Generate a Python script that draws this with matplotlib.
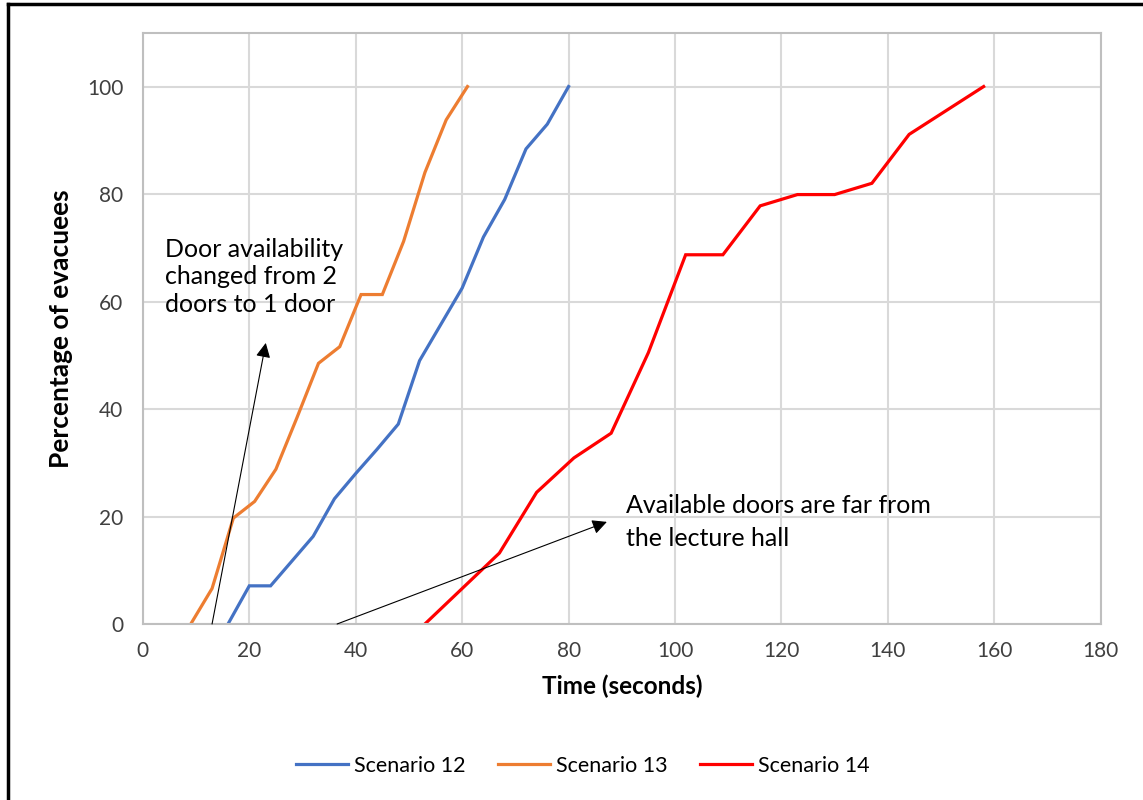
import matplotlib
matplotlib.use('Agg')
import matplotlib.pyplot as plt
from matplotlib.lines import Line2D

plt.rcParams['font.family'] = ['Lato', 'DejaVu Sans']

# ------------- data ----------
t12 = [16, 20, 24, 32, 36, 40, 44, 48, 52, 60, 64, 68, 72, 76, 80]
p12 = [0, 7.1, 7.1, 16.3, 23.3, 28, 32.5, 37.2, 49, 62.5, 72, 79, 88.4, 93, 100]

t13 = [9, 13, 17, 21, 25, 29, 33, 37, 41, 45, 49, 53, 57, 61]
p13 = [0, 6.6, 19.7, 22.8, 28.8, 38.5, 48.5, 51.6, 61.3, 61.3, 71.2, 84, 93.8, 100]

t14 = [53, 67, 74, 81, 88, 95, 102, 109, 116, 123, 130, 137, 144, 158]
p14 = [0, 13.2, 24.5, 30.9, 35.5, 50.5, 68.7, 68.7, 77.8, 79.9, 79.9, 82, 91.1, 100]

labels = ['Scenario 12', 'Scenario 13', 'Scenario 14']
colors = ['#4472C4', '#ED7D31', '#FF0000']

x_ticks = list(range(0, 181, 20))
y_ticks = list(range(0, 101, 20))

# ------------- figure ----------
fig = plt.figure(figsize=[11.43, 8], dpi=100)
ax = fig.add_axes([0.125, 0.22, 0.838, 0.739])

for t, p, lab, c in zip([t12, t13, t14], [p12, p13, p14], labels, colors):
    ax.plot(t, p, color=c, lw=2.3, label=lab, solid_joinstyle='miter')

ax.set_xlim(0, 180)
ax.set_ylim(0, 110)
ax.set_xticks(x_ticks)
ax.set_yticks(y_ticks)
ax.tick_params(length=0, labelsize=15, colors='#404040', pad=14)
ax.tick_params(axis='x', pad=12)
ax.grid(True, color='#d9d9d9', lw=1.5)
ax.set_axisbelow(True)
for s in ax.spines.values():
    s.set_color('#bfbfbf')
    s.set_linewidth(1.5)

ax.set_xlabel('Time (seconds)', fontsize=17.5, fontweight='bold', labelpad=10)
ax.set_ylabel('Percentage of evacuees', fontsize=19, fontweight='bold', labelpad=10)

# ------------- annotations ----------
arrow = dict(arrowstyle='-|>', color='black', lw=0.8, mutation_scale=22,
             shrinkA=0, shrinkB=0)
ax.annotate('', xy=(23.1, 52.3), xytext=(13.0, 0), arrowprops=arrow)
ax.text(4.2, 64.6, 'Door availability\nchanged from 2\ndoors to 1 door',
        fontsize=18, ha='left', va='center', linespacing=1.25)

ax.annotate('', xy=(87.2, 19.0), xytext=(36.5, 0), arrowprops=arrow)
ax.text(90.8, 19.0, 'Available doors are far from\nthe lecture hall',
        fontsize=18, ha='left', va='center', linespacing=1.55)

ax.legend(loc='center', bbox_to_anchor=(0.51, 0.043), bbox_transform=fig.transFigure,
          ncol=3, frameon=False, fontsize=15.5, handlelength=2.4, columnspacing=1.5,
          handletextpad=0.3)

# outer frame (left and top edges visible in reference)
fig.add_artist(Line2D([0.007, 0.007], [0, 0.995], color='black', lw=2.5))
fig.add_artist(Line2D([0.007, 1.0], [0.995, 0.995], color='black', lw=2.5))

fig.savefig('out.png', dpi=100)
